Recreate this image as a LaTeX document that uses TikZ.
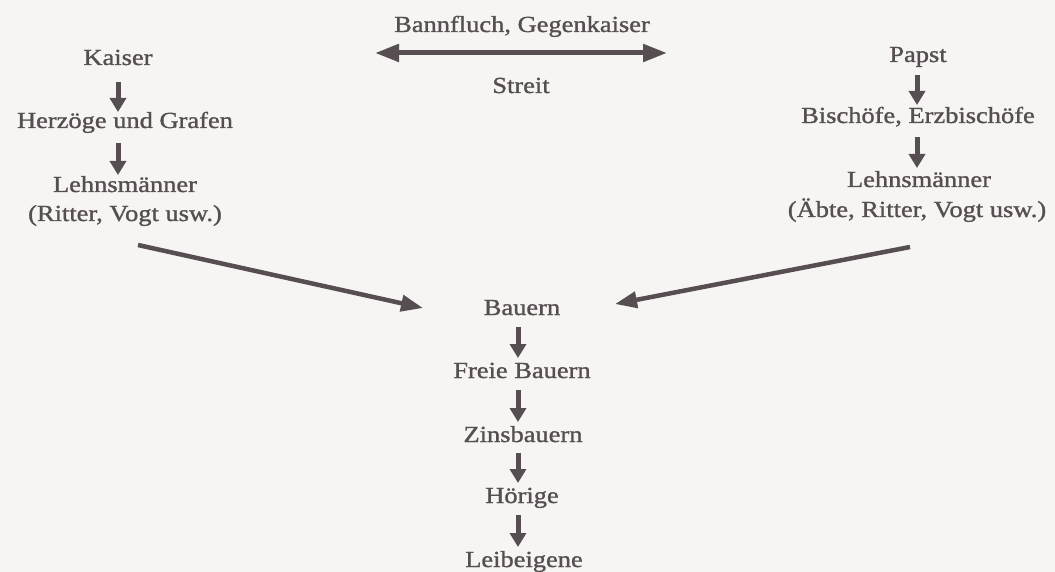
\documentclass[tikz,border=0pt]{standalone}
\usepackage{fontspec}
\setmainfont{Liberation Serif}[FakeStretch=1.15,FakeBold=1.2]
\usetikzlibrary{arrows.meta,calc}
\definecolor{ink}{RGB}{86,78,80}
\definecolor{paper}{RGB}{246,245,243}
\begin{document}
\begin{tikzpicture}[x=1pt,y=-1pt,
  lbl/.style={anchor=base,inner sep=0pt,text=ink,font=\fontsize{23}{26}\selectfont},
  dn/.style={-{Triangle[length=14pt,width=16pt]},line width=5pt,draw=ink},
  longarrow/.style={-{Triangle[length=22pt,width=16pt]},line width=4.5pt,draw=ink},
  dblarrow/.style={{Triangle[length=24pt,width=17pt]}-{Triangle[length=24pt,width=17pt]},line width=5pt,draw=ink}]
\fill[paper] (0,0) rectangle (1055,572);
\clip (0,0) rectangle (1055,572);
\useasboundingbox (0,0) rectangle (1055,572);
% left column
\node[lbl] (kaiser) at (118,65) {Kaiser};
\node[lbl] (herzog) at (125,128) {Herzöge und Grafen};
\node[lbl] (lehnsL) at (125,192) {Lehnsmänner};
\node[lbl] (ritterL) at (125,221) {(Ritter, Vogt usw.)};
% right column
\node[lbl] (papst) at (918,62) {Papst};
\node[lbl] (bisch) at (918,123) {Bischöfe, Erzbischöfe};
\node[lbl] (lehnsR) at (919,187) {Lehnsmänner};
\node[lbl] (aebte) at (917,217) {(Äbte, Ritter, Vogt usw.)};
% top middle
\node[lbl] (bann) at (522,32) {Bannfluch, Gegenkaiser};
\node[lbl] (streit) at (521,93) {Streit};
% bottom chain
\node[lbl] (bauern) at (522,315) {Bauern};
\node[lbl] (freie) at (522,378) {Freie Bauern};
\node[lbl] (zins) at (523,442) {Zinsbauern};
\node[lbl] (hoer) at (522,503) {Hörige};
\node[lbl] (leib) at (524,567) {Leibeigene};
\coordinate (colC) at (518,0);
\coordinate (colR) at (917,0);
% short arrows left
\draw[dn] ($(kaiser.base)+(0,17)$) -- ($(herzog.base -| kaiser.base)+(0,-16)$);
\draw[dn] ($(herzog.base -| kaiser.base)+(0,15)$) -- ($(lehnsL.base -| kaiser.base)+(0,-17)$);
% short arrows right
\draw[dn] ($(papst.base -| colR)+(0,13)$) -- ($(bisch.base -| colR)+(0,-18)$);
\draw[dn] ($(bisch.base -| colR)+(0,14)$) -- ($(lehnsR.base -| colR)+(0,-19)$);
% bottom chain
\draw[dn] ($(bauern.base -| colC)+(0,12)$) -- ($(freie.base -| colC)+(0,-20)$);
\draw[dn] ($(freie.base -| colC)+(0,12)$) -- ($(zins.base -| colC)+(0,-20)$);
\draw[dn] ($(zins.base -| colC)+(0,11)$) -- ($(hoer.base -| colC)+(0,-20)$);
\draw[dn] ($(hoer.base -| colC)+(0,12)$) -- ($(leib.base -| colC)+(0,-20)$);
% double arrow
\coordinate (dblL) at (375,53);
\coordinate (dblR) at (667,53);
\draw[dblarrow] (dblL) -- (dblR);
% diagonals
\draw[longarrow] ($(ritterL.base)+(13,24)$) -- ($(bauern.base)+(-99,-7)$);
\draw[longarrow] ($(aebte.base)+(-7,30)$) -- ($(bauern.base)+(93,-11)$);
\end{tikzpicture}
\end{document}
